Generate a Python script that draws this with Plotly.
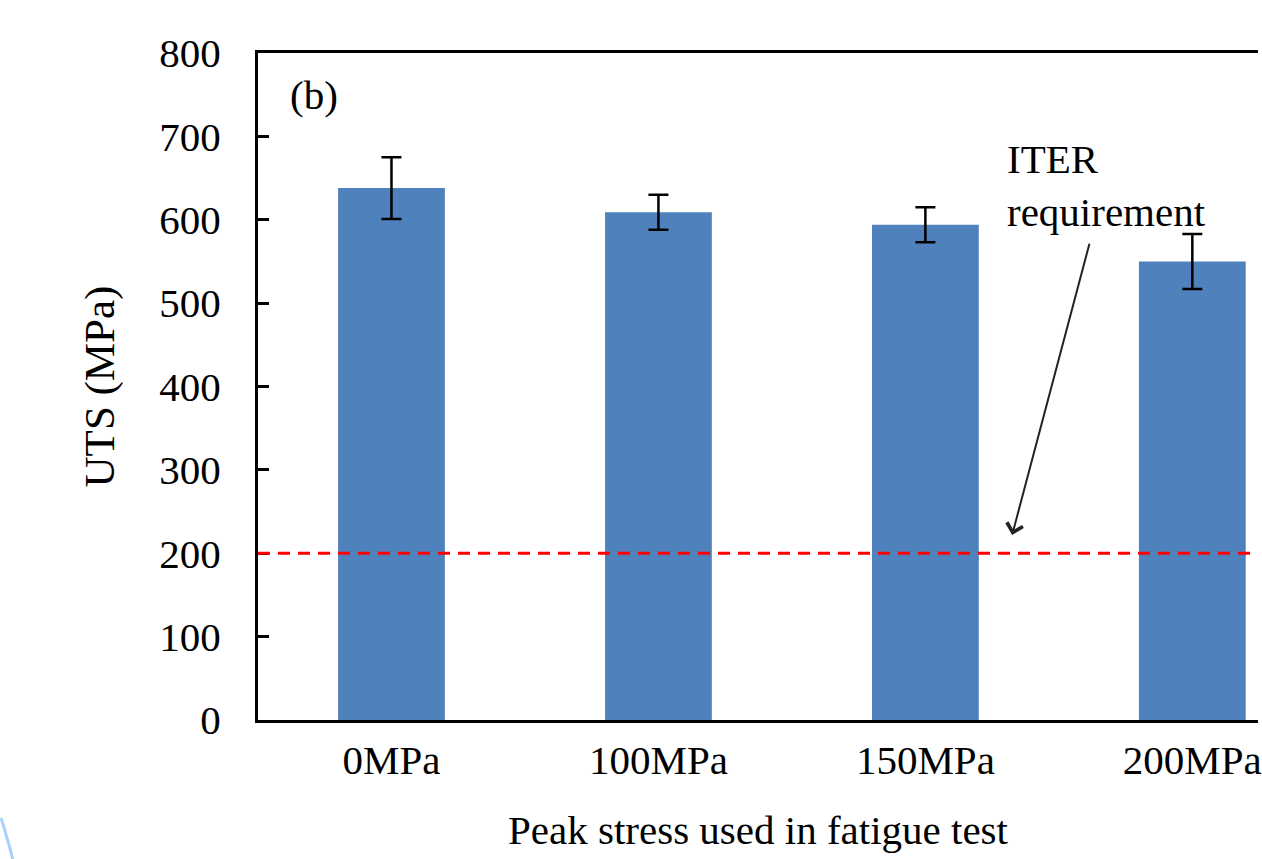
import plotly.graph_objects as go

categories = ["0MPa", "100MPa", "150MPa", "200MPa"]
uts_values = [638, 609, 594, 550]
uts_errors = [37, 21, 21, 33]
iter_requirement = 200
y_ticks = [0, 100, 200, 300, 400, 500, 600, 700, 800]

FONT = "Liberation Serif"
x_pos = list(range(len(categories)))

fig = go.Figure()
fig.add_trace(go.Bar(
    x=x_pos, y=uts_values, width=0.4,
    marker=dict(color="#4F81BD", line=dict(width=0)),
    error_y=dict(type="data", array=uts_errors, visible=True,
                 color="black", thickness=2.5, width=10),
    showlegend=False,
))

# ITER requirement dashed line
fig.add_shape(type="line", xref="paper", x0=0, x1=1, yref="y",
              y0=iter_requirement, y1=iter_requirement,
              line=dict(color="#FF0000", width=3, dash="12px,8px"))

# annotation text + arrow
fig.add_annotation(x=2.3, y=703, xref="x", yref="y", text="ITER<br>requirement",
                   showarrow=False, xanchor="left", yanchor="top", align="left",
                   font=dict(family=FONT, size=41, color="black"))
fig.add_annotation(x=2.325, y=222, xref="x", yref="y",
                   ax=2.616, ay=573, axref="x", ayref="y",
                   showarrow=True, arrowhead=4, arrowsize=1.6, arrowwidth=2,
                   arrowcolor="#222222", text="")
fig.add_annotation(x=0.03, y=0.975, xref="paper", yref="paper", text="(b)",
                   showarrow=False, xanchor="left", yanchor="top",
                   font=dict(family=FONT, size=41, color="black"))

# decorative light-blue arc at bottom-left
fig.add_shape(type="path", xref="paper", yref="paper",
              path="M -0.257,-0.147 Q -0.252,-0.17 -0.245,-0.21",
              line=dict(color="#A8D0FF", width=3))

fig.update_layout(
    width=1262, height=859,
    margin=dict(l=258, r=0, t=53, b=139),
    plot_bgcolor="white", paper_bgcolor="white",
    font=dict(family=FONT, size=41, color="black"),
    xaxis=dict(range=[-0.5, 3.246], tickmode="array", tickvals=x_pos,
               ticktext=categories, showline=True, linecolor="black",
               linewidth=3, mirror=True, ticks="", showgrid=False,
               zeroline=False, ticklabelstandoff=2, ticklabeloverflow="allow",
               title=dict(text="Peak stress used in fatigue test",
                          standoff=34, font=dict(size=41))),
    yaxis=dict(range=[0, 800], tickmode="array", tickvals=y_ticks,
               showline=True, linecolor="black", linewidth=3, ticks="inside",
               ticklen=11, tickwidth=2.5, tickcolor="black", showgrid=False,
               zeroline=False, ticklabelstandoff=26,
               title=dict(text="UTS (MPa)", standoff=32, font=dict(size=43))),
)

fig.write_html("out.html")
